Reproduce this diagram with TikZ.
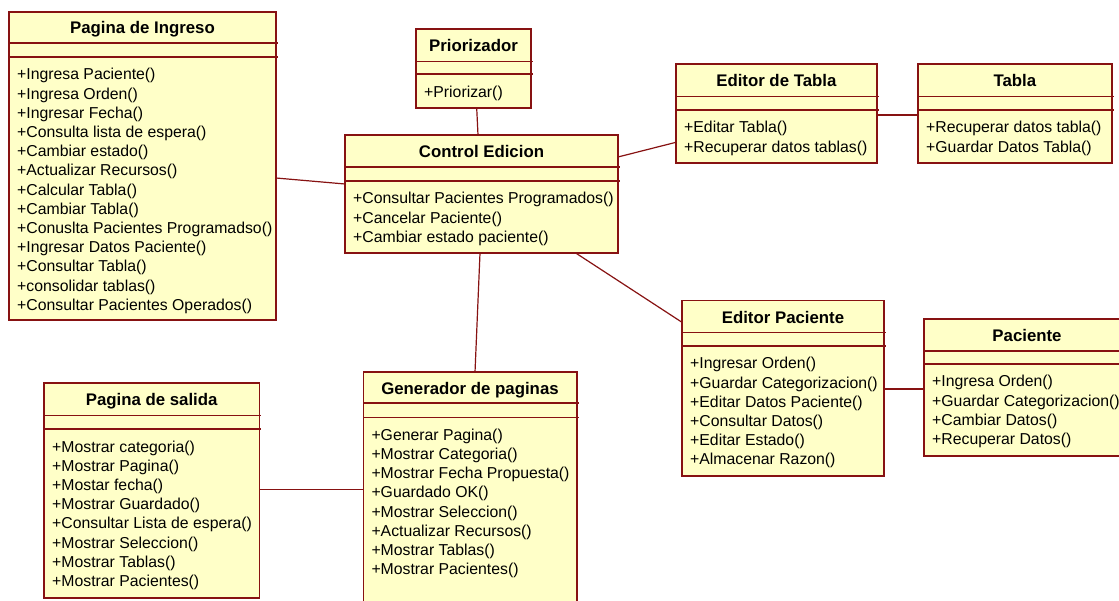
\documentclass[tikz,border=0pt]{standalone}
\usepackage{fontspec}
\setmainfont{Liberation Sans}
\definecolor{umlfill}{RGB}{255,255,200}
\definecolor{umlline}{RGB}{135,18,18}
\newcommand\methlist[1]{\vtop{\baselineskip=19.2pt\lineskiplimit=-1000pt\lineskip=0pt\halign{##\hfil\cr#1\crcr}}}
\tikzset{
  umlbox/.style={draw=umlline, fill=umlfill, line width=1.6pt, rectangle, inner sep=0pt, outer sep=0pt, anchor=north west},
  umlsep/.style={draw=umlline, line width=1.6pt},
  umltitle/.style={font=\fontsize{16.8}{19}\selectfont\bfseries, anchor=base, inner sep=0pt},
  umlmeth/.style={font=\fontsize{15.8}{19.2}\selectfont, anchor=base west, inner sep=0pt},
  assoc/.style={draw=umlline, line width=1.2pt},
}
% #1 name, #2 x, #3 y, #4 w, #5 h, #6 title, #7 sep1, #8 sep2, #9 methods
\newcommand\umlclass[9]{%
  \node[umlbox, minimum width=#4pt, minimum height=#5pt] (#1) at (#2,#3) {};
  \draw[umlsep] ([yshift=-#7pt]#1.north west) -- ([yshift=-#7pt, xshift=2pt]#1.north east);
  \draw[umlsep] ([yshift=-#8pt]#1.north west) -- ([yshift=-#8pt, xshift=2pt]#1.north east);
  \node[umltitle] (#1-title) at ([yshift={-(#7)/2-6.5}]#1.north) {#6};
  \node[umlmeth] (#1-ops) at ([yshift={-(#8)-23}, xshift=8pt]#1.north west) {\methlist{#9}};
}
\begin{document}
\begin{tikzpicture}[x=1pt,y=-1pt]
\useasboundingbox (0,0) rectangle (1119,601);
\clip (0,0) rectangle (1119,601);
\fill[white] (0,0) rectangle (1119,601);

\umlclass{ingreso}{9}{12}{267}{308}{Pagina de Ingreso}{31}{45}{%
+Ingresa Paciente()\cr
+Ingresa Orden()\cr
+Ingresar Fecha()\cr
+Consulta lista de espera()\cr
+Cambiar estado()\cr
+Actualizar Recursos()\cr
+Calcular Tabla()\cr
+Cambiar Tabla()\cr
+Conuslta Pacientes Programadso()\cr
+Ingresar Datos Paciente()\cr
+Consultar Tabla()\cr
+consolidar tablas()\cr
+Consultar Pacientes Operados()}

\umlclass{prior}{416}{29}{115}{79}{Priorizador}{32.7}{45.3}{+Priorizar()}

\umlclass{control}{345}{135}{273}{118}{Control Edicion}{32}{46}{%
+Consultar Pacientes Programados()\cr
+Cancelar Paciente()\cr
+Cambiar estado paciente()}

\umlclass{edtabla}{676}{64.3}{200.7}{98.7}{Editor de Tabla}{32.4}{45.7}{%
+Editar Tabla()\cr
+Recuperar datos tablas()}

\umlclass{tabla}{918}{64.3}{193.7}{98.7}{Tabla}{32.4}{45.7}{%
+Recuperar datos tabla()\cr
+Guardar Datos Tabla()}

\umlclass{edpac}{682}{300.7}{202}{175.3}{Editor Paciente}{32}{45.3}{%
+Ingresar Orden()\cr
+Guardar Categorizacion()\cr
+Editar Datos Paciente()\cr
+Consultar Datos()\cr
+Editar Estado()\cr
+Almacenar Razon()}

\umlclass{paciente}{924}{319}{206}{136.7}{Paciente}{32}{45}{%
+Ingresa Orden()\cr
+Guardar Categorizacion()\cr
+Cambiar Datos()\cr
+Recuperar Datos()}

\umlclass{salida}{44}{383.3}{215.3}{214.4}{Pagina de salida}{32}{45.7}{%
+Mostrar categoria()\cr
+Mostrar Pagina()\cr
+Mostar fecha()\cr
+Mostrar Guardado()\cr
+Consultar Lista de espera()\cr
+Mostrar Seleccion()\cr
+Mostrar Tablas()\cr
+Mostrar Pacientes()}

\umlclass{gen}{363.3}{372.3}{213.4}{240}{Generador de paginas}{31}{45}{%
+Generar Pagina()\cr
+Mostrar Categoria()\cr
+Mostrar Fecha Propuesta()\cr
+Guardado OK()\cr
+Mostrar Seleccion()\cr
+Actualizar Recursos()\cr
+Mostrar Tablas()\cr
+Mostrar Pacientes()}

% associations
\draw[assoc] ([yshift=-166pt]ingreso.north east) -- ([yshift=-49pt]control.north west);
\draw[assoc] ([xshift=60.7pt]prior.south west) -- ([xshift=133pt]control.north west);
\draw[assoc] ([yshift=-22pt]control.north east) -- ([yshift=-78pt]edtabla.north west);
\draw[assoc] ([yshift=-50.7pt]edtabla.north east) -- ([yshift=-50.7pt]tabla.north west);
\draw[assoc] ([xshift=230.7pt]control.south west) -- ([yshift=-21.6pt]edpac.north west);
\draw[assoc] ([xshift=135pt]control.south west) -- ([xshift=111.7pt]gen.north west);
\draw[assoc] ([yshift=-88.3pt]edpac.north east) -- ([yshift=-70pt]paciente.north west);
\draw[assoc] ([yshift=-106.2pt]salida.north east) -- ([yshift=-117.2pt]gen.north west);
\end{tikzpicture}
\end{document}
